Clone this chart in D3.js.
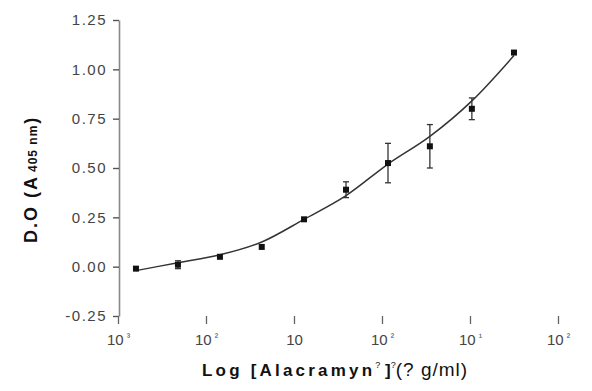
<!DOCTYPE html>
<html><head><meta charset="utf-8">
<script src="https://cdn.jsdelivr.net/npm/d3@7"></script>
<style>
html,body{margin:0;padding:0;background:#fff;}
svg{display:block;font-family:"Liberation Sans",Arial,sans-serif;}
</style></head>
<body>
<svg id="c" width="592" height="391"></svg>
<script>
// Data
const conc = [0.0016, 0.0048, 0.0144, 0.043, 0.13, 0.39, 1.17, 3.5, 10.5, 31.6];
const od   = [-0.01, 0.01, 0.05, 0.10, 0.24, 0.39, 0.525, 0.61, 0.80, 1.085];
const err  = [0, 0.02, 0, 0, 0, 0.04, 0.10, 0.11, 0.055, 0];
const fitConc = [0.0016, 0.0048, 0.0144, 0.043, 0.13, 0.39, 1.17, 3.5, 10.5, 31.6];
const fitOd   = [-0.02, 0.02, 0.06, 0.125, 0.24, 0.36, 0.52, 0.66, 0.84, 1.07];
const yTicks = [-0.25, 0.00, 0.25, 0.50, 0.75, 1.00, 1.25];
const yTickLabels = ["-0.25", "0.00", "0.25", "0.50", "0.75", "1.00", "1.25"];
const xTicks = [1e-3, 1e-2, 1e-1, 1e0, 1e1, 1e2];
const xTickSup = ["\u00b3", "\u00b2", "", "\u00b2", "\u00b9", "\u00b2"];

const svg = d3.select("#c");
const x = d3.scaleLog().domain([1e-3, 1e2]).range([118, 558]);
const y = d3.scaleLinear().domain([-0.25, 1.25]).range([316, 20]);

// Y axis
const gy = svg.append("g").attr("transform", "translate(119,0)")
  .call(d3.axisLeft(y).tickValues(yTicks).tickSize(6).tickSizeOuter(0).tickPadding(6)
    .tickFormat((d, i) => yTickLabels[i]));
gy.select(".domain").attr("stroke", "#888").attr("stroke-width", 1.6);
gy.selectAll(".tick line").attr("stroke", "#555").attr("stroke-width", 1.4);
gy.selectAll(".tick text").attr("fill", "#444").attr("font-size", 15)
  .attr("letter-spacing", 1.5).attr("font-family", "Liberation Sans, Arial, sans-serif");

// X axis (no domain line)
const gx = svg.append("g").attr("transform", "translate(0,316)")
  .call(d3.axisBottom(x).tickValues(xTicks).tickSize(8).tickPadding(5).tickFormat(() => ""));
gx.select(".domain").remove();
gx.selectAll(".tick line").attr("stroke", "#666").attr("stroke-width", 1.3);
gx.selectAll(".tick text").each(function(d, i) {
  const t = d3.select(this).attr("fill", "#444").attr("font-size", 15)
    .attr("font-family", "Liberation Sans, Arial, sans-serif")
    .attr("text-anchor", "middle").attr("dy", "1.05em");
  t.append("tspan").text("10");
  t.append("tspan").attr("font-size", 10).attr("dx", 3).attr("dy", -5).text(xTickSup[i]);
});

// Fit curve
const fit = fitConc.map((c, i) => [c, fitOd[i]]);
svg.append("path").datum(fit)
  .attr("fill", "none").attr("stroke", "#333").attr("stroke-width", 1.5)
  .attr("d", d3.line().x(d => x(d[0])).y(d => y(d[1])).curve(d3.curveMonotoneX));

// Error bars
const pts = conc.map((c, i) => ({c, v: od[i], e: err[i]}));
const eb = svg.append("g").attr("stroke", "#333").attr("stroke-width", 1.3);
pts.filter(p => p.e > 0).forEach(p => {
  const px = x(p.c);
  eb.append("line").attr("x1", px).attr("x2", px).attr("y1", y(p.v + p.e)).attr("y2", y(p.v - p.e));
  eb.append("line").attr("x1", px - 3).attr("x2", px + 3).attr("y1", y(p.v + p.e)).attr("y2", y(p.v + p.e));
  eb.append("line").attr("x1", px - 3).attr("x2", px + 3).attr("y1", y(p.v - p.e)).attr("y2", y(p.v - p.e));
});

// Points
svg.append("g").selectAll("rect").data(pts).join("rect")
  .attr("x", d => x(d.c) - 3).attr("y", d => y(d.v) - 3)
  .attr("width", 6).attr("height", 6).attr("fill", "#111");

// Y title
const yt = svg.append("text").attr("transform", "translate(37,243) rotate(-90)")
  .attr("text-anchor", "start").attr("font-weight", "bold").attr("fill", "#111")
  .attr("font-size", 18).attr("letter-spacing", 2);
yt.append("tspan").text("D.O (A");
yt.append("tspan").attr("font-size", 12).attr("dx", 3).attr("letter-spacing", 1).text("405 nm");
yt.append("tspan").attr("dx", 1).text(")");

// X title
const xt = svg.append("text").attr("x", 202).attr("y", 376)
  .attr("text-anchor", "start").attr("fill", "#111").attr("font-size", 17);
xt.append("tspan").attr("font-weight", "bold").attr("letter-spacing", 3.2).text("Log [Alacramyn");
xt.append("tspan").attr("font-size", 9).attr("dy", -8).text("?");
xt.append("tspan").attr("dy", 8).attr("font-weight", "bold").text(" ]");
xt.append("tspan").attr("font-size", 9).attr("dy", -8).text("?");
xt.append("tspan").attr("dy", 8).attr("font-size", 19).attr("letter-spacing", 1).text("(? g/ml)");
</script>
</body></html>
